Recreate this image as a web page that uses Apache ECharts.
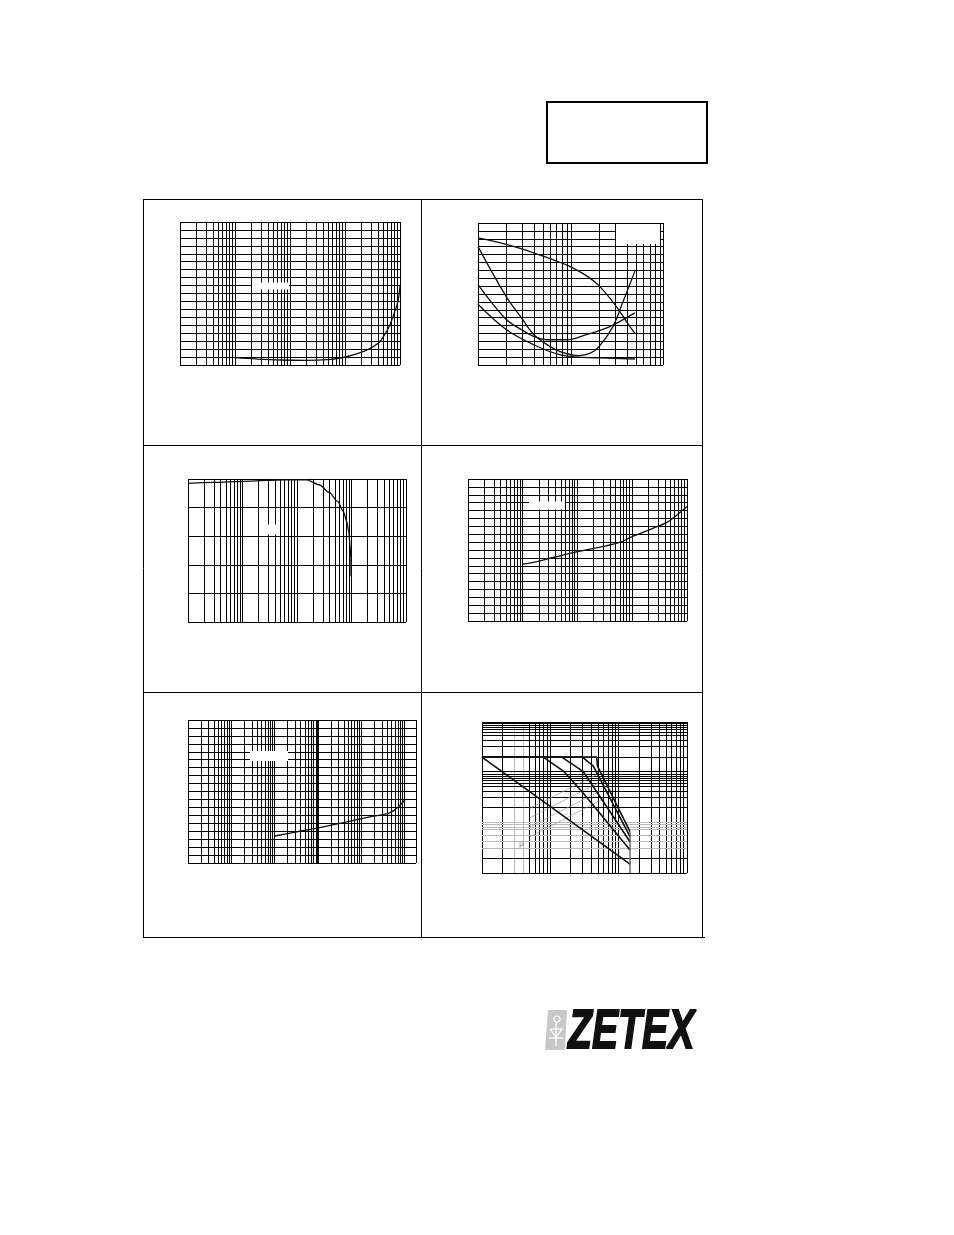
<!DOCTYPE html>
<html><head><meta charset="utf-8">
<script src="https://cdn.jsdelivr.net/npm/echarts@6/dist/echarts.min.js"></script>
<style>html,body{margin:0;padding:0;background:#fff}#c{width:954px;height:1235px}</style>
</head><body><div id="c"></div>
<script>
// ---------- data ----------
// Panel 1 (top-left)
const p1X = [10, 24, 65, 203, 473, 832, 1460, 2570, 4070, 5030, 6380, 7870, 9190, 10000];
const p1Y = [0.92, 0.76, 0.63, 0.59, 0.67, 0.88, 1.30, 1.93, 2.77, 3.61, 4.87, 6.55, 8.02, 10.0];
// Panel 2 (top-right), four curves
const p2AX = [1, 2, 3, 5, 8, 10, 15, 20, 30, 40, 48];
const p2AY = [16.1, 15.3, 14.7, 13.8, 12.9, 12.4, 11.2, 10.0, 7.5, 5.3, 4.0];
const p2BX = [1, 2, 3, 4, 6, 8, 12, 16, 20, 28, 36, 48];
const p2BY = [15.0, 8.7, 5.8, 3.8, 2.3, 1.6, 1.2, 1.5, 2.4, 4.9, 8.1, 11.9];
const p2CX = [1, 2, 3, 4, 5.4, 8.8, 14.5, 24, 33, 48];
const p2CY = [10.2, 5.8, 4.4, 3.6, 3.2, 3.2, 3.85, 4.7, 5.5, 6.6];
const p2DX = [1, 2, 3.9, 7.5, 12, 20, 48];
const p2DY = [7.7, 4.5, 2.6, 1.3, 1.0, 0.9, 0.76];
// Panel 3 (middle-left)
const p3X = [1, 3, 10, 30, 60, 150, 260, 390, 560, 710, 820, 890, 940, 968, 982];
const p3Y = [4.85, 4.88, 4.92, 4.95, 4.97, 4.97, 4.79, 4.53, 4.21, 3.86, 3.51, 3.16, 2.70, 2.23, 1.59];
// Panel 4 (middle-right)
const p4X = [10, 20, 36, 100, 300, 600, 1000, 2500, 4300, 6600, 10000];
const p4Y = [7.2, 7.6, 8.05, 8.8, 9.45, 10.0, 10.7, 11.8, 12.5, 13.45, 14.5];
// Panel 5 (bottom-left)
const p5X = [100, 300, 1000, 3000, 10000, 18600, 40000, 54000, 77000, 103000];
const p5Y = [3.4, 3.9, 4.42, 4.96, 5.59, 5.89, 6.22, 6.56, 7.27, 8.03];
// Panel 6 (bottom-right, log-log safe operating area)
const p6C1X = [1, 146.6];            const p6C1Y = [1, 0.0009];
const p6C2X = [1, 7.9, 15.9, 30.4, 146.6]; const p6C2Y = [1, 1, 0.384, 0.093, 0.00225];
const p6C3X = [1, 14.7, 30.4, 146.6]; const p6C3Y = [1, 1, 0.384, 0.00389];
const p6C4X = [1, 29.4, 42.6, 146.6]; const p6C4Y = [1, 1, 0.557, 0.0054];
const p6C5X = [1, 47.7, 49, 146.6];   const p6C5Y = [1, 1, 0.55, 0.0075];
const p6DropX = [146.6, 146.6];      const p6DropY = [0.0075, 0.0005];
const p6LeadX = [[5.04, 46.6], [5.04, 49.9], [5.04, 53.3], [5.04, 55.2]];
const p6LeadY = [[0.0348, 0.309], [0.0188, 0.183], [0.0104, 0.108], [0.0054, 0.060]];
const p6HBlack = [9, 8, 7, 6, 5, 4, 3, 2, 1, 0.382, 0.328, 0.288, 0.248, 0.212, 0.179, 0.143, 0.108, 0.0698, 0.0373, 0.00133];
const p6HGray = [0.0138, 0.01174, 0.00997, 0.00847, 0.00572, 0.00386, 0.00245];
const p6VGray = [3, 4];
const p5VThick = [1000];
const MULT = [1, 2, 3, 4, 5, 6, 7, 8, 9];

// ---------- layout ----------
const panels = [
  {left: 180, top: 222, width: 220, height: 143, xMin: 1, xMax: 10000, yMax: 18},
  {left: 478, top: 223, width: 185, height: 142, xMin: 1, xMax: 96, yMax: 18},
  {left: 188, top: 479, width: 218, height: 143, xMin: 1, xMax: 10000, yMax: 5},
  {left: 468, top: 479, width: 219, height: 142, xMin: 1, xMax: 10000, yMax: 18},
  {left: 188, top: 720, width: 228, height: 143, xMin: 1, xMax: 180000, yMax: 18},
  {left: 482, top: 722, width: 205, height: 151, xMin: 1, xMax: 1000, yLog: true, yMin: 0.0005, yMax: 10}
];

function logLines(min, max) {
  const out = [];
  for (let k = Math.floor(Math.log10(min)); k <= Math.ceil(Math.log10(max)); k++) {
    for (const m of MULT) {
      const v = +(m * Math.pow(10, k)).toPrecision(6);
      if (v >= min && v <= max && out.indexOf(v) < 0) out.push(v);
    }
  }
  if (out[0] !== min) out.unshift(min);
  if (out[out.length - 1] !== max) out.push(max);
  return out;
}
const zip = (a, b) => a.map((v, i) => [v, b[i]]);

function gridItem(params, api) {
  const x = api.value(0), y = api.value(1), dir = api.value(2), sty = api.value(3);
  const p = api.coord([x, y]);
  const cs = params.coordSys;
  const color = sty === 1 ? '#b9b9b9' : '#000';
  const w = sty === 2 ? 2 : 1;
  if (dir === 0) {
    const px = w === 2 ? Math.round(p[0]) : Math.round(p[0] - 0.5) + 0.5;
    return {type: 'line', shape: {x1: px, y1: cs.y, x2: px, y2: cs.y + cs.height}, style: {stroke: color, lineWidth: w}};
  }
  const py = Math.round(p[1] - 0.5) + 0.5;
  return {type: 'line', shape: {x1: cs.x, y1: py, x2: cs.x + cs.width, y2: py}, style: {stroke: color, lineWidth: w}};
}

const grids = [], xAxes = [], yAxes = [], series = [];
const hidden = {axisLine: {show: false}, axisTick: {show: false}, axisLabel: {show: false}};
panels.forEach((p, i) => {
  grids.push({left: p.left, top: p.top, width: p.width, height: p.height, show: false});
  xAxes.push(Object.assign({type: 'log', logBase: 10, gridIndex: i, min: p.xMin, max: p.xMax, splitLine: {show: false}}, hidden));
  if (p.yLog) {
    yAxes.push(Object.assign({type: 'log', logBase: 10, gridIndex: i, min: p.yMin, max: p.yMax, splitLine: {show: false}}, hidden));
  } else {
    yAxes.push(Object.assign({type: 'value', gridIndex: i, min: 0, max: p.yMax, interval: 1,
      splitLine: {show: true, showMinLine: true, showMaxLine: true, lineStyle: {color: '#000', width: 1}}}, hidden));
  }
  const yRef = p.yLog ? p.yMin : 0;
  const data = logLines(p.xMin, p.xMax).map(v => {
    let s = 0;
    if (i === 5 && p6VGray.indexOf(v) >= 0) s = 1;
    if (i === 4 && p5VThick.indexOf(v) >= 0) s = 2;
    return [v, yRef, 0, s];
  });
  if (p.yLog) {
    [p.yMin, p.yMax].concat(p6HBlack).forEach(v => data.push([p.xMin, v, 1, 0]));
    p6HGray.forEach(v => data.push([p.xMin, v, 1, 1]));
  }
  series.push({type: 'custom', xAxisIndex: i, yAxisIndex: i, renderItem: gridItem, data: data,
    silent: true, z: 1, clip: false, animation: false});
});

function curve(i, xs, ys, opt) {
  series.push(Object.assign({type: 'line', xAxisIndex: i, yAxisIndex: i, data: zip(xs, ys),
    showSymbol: false, symbol: 'none', smooth: 0.35, silent: true, z: 3, animation: false,
    lineStyle: {color: '#111', width: 1.3}}, opt || {}));
}
curve(0, p1X, p1Y);
curve(1, p2AX, p2AY); curve(1, p2BX, p2BY); curve(1, p2CX, p2CY); curve(1, p2DX, p2DY);
curve(2, p3X, p3Y, {smooth: 0.3, smoothMonotone: 'x'});
curve(3, p4X, p4Y);
curve(4, p5X, p5Y);
const straight = {smooth: false, lineStyle: {color: '#111', width: 1.6}};
curve(5, p6C1X, p6C1Y, straight);
curve(5, p6C2X, p6C2Y, straight);
curve(5, p6C3X, p6C3Y, straight);
curve(5, p6C4X, p6C4Y, straight);
curve(5, p6C5X, p6C5Y, straight);
curve(5, p6DropX, p6DropY, {smooth: false, lineStyle: {color: '#555', width: 1.3}});
p6LeadX.forEach((xs, k) => curve(5, xs, p6LeadY[k], {smooth: false, z: 2, lineStyle: {color: '#9a9a9a', width: 0.7}}));

// ---------- page graphics ----------
const L = (x1, y1, x2, y2, w) => ({type: 'line', silent: true, z: 20,
  shape: {x1, y1, x2, y2}, style: {stroke: '#000', lineWidth: w || 1}});
const W = (x, y, w, h) => ({type: 'rect', silent: true, z: 15, shape: {x, y, width: w, height: h}, style: {fill: '#fff'}});
const graphics = [
  // frame of the six panels
  L(143, 199.5, 703, 199.5), L(143, 445.5, 703, 445.5), L(143, 692.5, 703, 692.5), L(143, 937.5, 705, 937.5),
  L(143.5, 199, 143.5, 938), L(421.5, 199, 421.5, 938), L(702.5, 199, 702.5, 938),
  // title box
  {type: 'rect', silent: true, z: 20, shape: {x: 547, y: 102, width: 160, height: 61}, style: {fill: 'none', stroke: '#000', lineWidth: 2}},
  // whited-out label areas
  W(252, 282.5, 37, 7), W(616, 224, 44, 20), W(260, 524.5, 17, 10), W(529, 501.5, 36, 8), W(250, 751, 38, 10),
  {type: 'text', silent: true, z: 20, x: 519, y: 844, style: {text: 'μ', fill: '#888', font: '8px "DejaVu Sans"', verticalAlign: 'middle'}},
  // logo
  {type: 'polygon', silent: true, z: 20, shape: {points: [[548, 1010], [567, 1010], [565, 1050], [545, 1050]]}, style: {fill: '#c8c8c8'}},
  {type: 'circle', silent: true, z: 21, shape: {cx: 557, cy: 1019, r: 3}, style: {fill: 'none', stroke: '#fff', lineWidth: 1.2}},
  {type: 'line', silent: true, z: 21, shape: {x1: 556, y1: 1022, x2: 556, y2: 1046}, style: {stroke: '#fff', lineWidth: 1.2}},
  {type: 'polyline', silent: true, z: 21, shape: {points: [[550, 1029], [562, 1029], [556, 1037], [550, 1029]]}, style: {fill: 'none', stroke: '#fff', lineWidth: 1.2}},
  {type: 'line', silent: true, z: 21, shape: {x1: 549, y1: 1038, x2: 563, y2: 1038}, style: {stroke: '#fff', lineWidth: 1.2}},
  {type: 'text', silent: true, z: 20, x: 568, y: 1033, scaleX: 0.70, originX: 0, originY: 0,
    style: {text: 'ZETEX', fill: '#111', stroke: '#111', lineWidth: 1.8, font: 'italic bold 56px "Liberation Sans"', verticalAlign: 'middle', align: 'left'}}
];

const chart = echarts.init(document.getElementById('c'), null, {renderer: 'canvas'});
chart.setOption({
  animation: false,
  backgroundColor: '#fff',
  grid: grids, xAxis: xAxes, yAxis: yAxes, series: series,
  graphic: {elements: graphics}
});
</script></body></html>
